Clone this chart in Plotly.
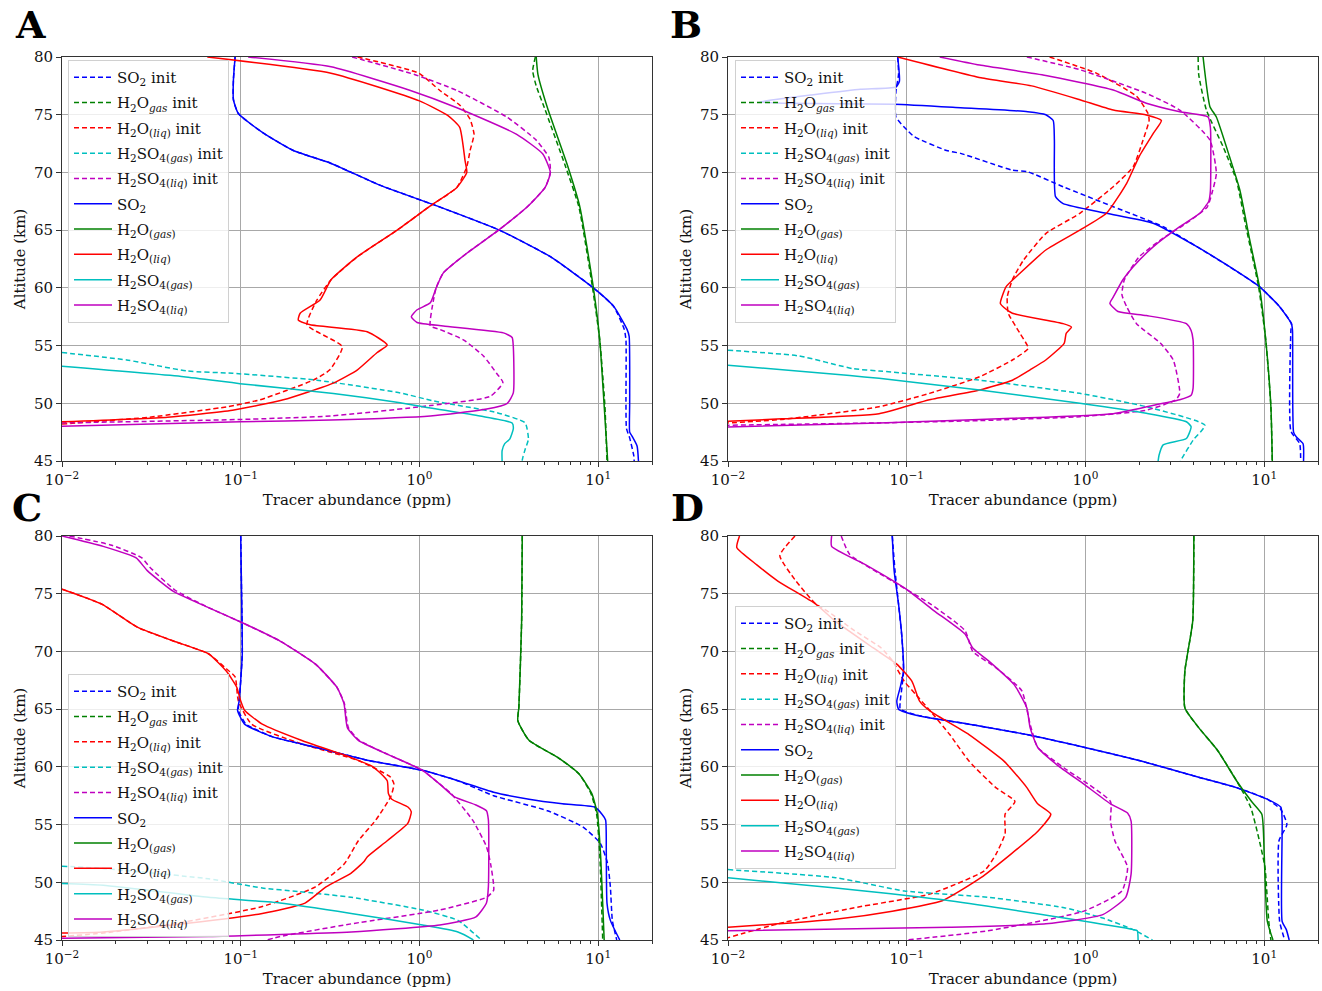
import plotly.graph_objects as go

# ---------------- data: (ppm, altitude km) ----------------
# Panel A
A_SO2_init = [(0.093,80),(0.091,78),(0.091,76.3),(0.097,75.1),(0.134,73.4),(0.197,71.9),(0.318,70.8),(0.60,68.9),(1.25,67.1),(2.8,65),(5.4,62.7),(9.4,60),(12.2,58.4),(14.0,56.4),(14.3,55.5),(14.3,50),(14.4,47.8),(15.0,47.0),(15.8,45.5),(15.9,45)]
A_H2Og_init = [(4.45,80),(4.3,78.8),(4.5,77.5),(5.0,75.6),(6.5,70.7),(7.8,67),(9.3,60),(10.2,55.5),(10.9,49.8),(11.2,45)]
A_H2Ol_init = [(0.45,80),(0.99,78.6),(1.3,77.1),(1.69,75.8),(1.92,74.6),(2.02,73.3),(1.92,71.9),(1.84,70.5),(1.62,68.7),(1.15,67.1),(0.75,65),(0.45,62.7),(0.32,60.7),(0.267,58.95),(0.235,56.8),(0.37,54.9),(0.315,52.9),(0.254,52.0),(0.128,50.3),(0.084,49.7),(0.031,48.8),(0.01,48.2)]
A_H2SO4g_init = [(0.01,54.4),(0.023,53.75),(0.05,52.8),(0.09,52.6),(0.267,52.0),(0.78,50.9),(1.2,50.2),(2.7,49.2),(3.9,48.3),(4.07,46.9),(3.9,46.0),(3.8,45.4),(3.75,45)]
A_H2SO4l_init = [(0.42,80),(0.93,78.5),(1.62,77.1),(3.08,74.8),(4.5,72.8),(5.3,71.3),(5.4,70.0),(5.05,68.7),(4.0,67.0),(2.77,65),(1.84,63),(1.36,61.3),(1.24,60),(1.2,59),(1.15,56.7),(1.3,56.4),(1.76,55.5),(2.28,54.1),(2.7,52.6),(2.93,51.8),(2.49,50.6),(1.15,49.8),(0.32,48.9),(0.1,48.6),(0.01,48.3)]
A_SO2 = [(0.093,80),(0.091,78),(0.091,76.3),(0.097,75.1),(0.134,73.4),(0.197,71.9),(0.318,70.8),(0.60,68.9),(1.25,67.1),(2.8,65),(5.4,62.7),(9.4,60),(12.2,58.4),(14.5,56.4),(14.9,55.8),(15.0,50),(15.0,47.5),(15.4,47.2),(16.5,46.3),(16.8,45)]
A_H2Og = [(4.5,80),(4.6,78.5),(5.2,75.6),(6.7,70.7),(7.9,67),(9.4,60),(10.2,55.5),(10.8,49.8),(11.3,45)]
A_H2Ol = [(0.065,80),(0.32,78.6),(1.0,76.2),(1.45,74.9),(1.68,73.9),(1.8,71),(1.84,70),(1.62,68.7),(1.15,67.1),(0.75,65),(0.45,62.7),(0.32,60.7),(0.278,58.95),(0.215,57.8),(0.21,57.2),(0.245,56.8),(0.51,56.2),(0.66,55.05),(0.58,54.4),(0.45,52.9),(0.33,51.75),(0.173,50.3),(0.09,49.4),(0.039,48.8),(0.01,48.4)]
A_H2SO4g = [(0.01,53.2),(0.048,52.3),(0.099,51.7),(0.33,50.85),(0.78,50.05),(1.15,49.6),(2.18,48.9),(3.3,48.3),(3.35,47.8),(3.2,46.9),(3.0,46.5),(2.9,45.9),(2.9,45)]
A_H2SO4l = [(0.11,80),(0.32,79.15),(0.89,77.1),(1.62,75.6),(3.5,73.3),(4.9,71.6),(5.4,70.0),(5.05,68.7),(4.0,67.0),(2.77,65),(1.84,63),(1.36,61.3),(1.24,60),(1.15,58.7),(0.97,58.1),(0.9,57.5),(0.97,57.0),(1.36,56.7),(2.95,56.1),(3.3,55.7),(3.35,54.9),(3.35,50.9),(3.1,50.0),(2.38,49.5),(1.15,48.9),(0.32,48.55),(0.1,48.4),(0.01,48.0)]

# Panel B
B_SO2_init = [(0.089,80),(0.09,78.5),(0.087,77),(0.087,74.8),(0.1,73.7),(0.11,73.1),(0.167,71.9),(0.2,71.65),(0.39,70.2),(0.475,70.06),(0.75,68.76),(1.43,67.03),(2.72,65.3),(4.2,63.57),(6.4,61.83),(9.4,60.1),(12.2,58.37),(14.2,56.9),(14.1,56.3),(14.1,47.6),(15.8,46.5),(16.0,45)]
B_H2Og_init = [(4.27,80),(4.3,78.5),(4.75,75.4),(5.9,72.2),(7.0,69.3),(7.9,65.3),(9.3,60.1),(10.2,55.5),(10.9,49.7),(11.1,45)]
B_H2Ol_init = [(0.63,80),(1.15,78.6),(1.93,76.6),(2.24,75.1),(2.27,74.5),(2.1,72.8),(1.85,70.5),(1.43,68.76),(0.93,66.46),(0.6,64.7),(0.45,62.4),(0.39,60.7),(0.365,59.2),(0.37,57.8),(0.43,56.06),(0.478,54.76),(0.39,53.75),(0.256,52.3),(0.134,50.86),(0.07,49.7),(0.02,48.6),(0.01,48.3)]
B_H2SO4g_init = [(0.01,54.6),(0.025,54.1),(0.05,53.0),(0.07,52.8),(0.256,52.0),(0.93,50.86),(2.19,49.7),(4.66,48.1),(4.0,46.8),(3.44,45.15),(3.4,45)]
B_H2SO4l_init = [(0.47,80),(0.93,78.9),(2.19,76.85),(3.37,75.4),(4.97,72.8),(5.4,69.9),(5.1,68.2),(4.8,67.0),(3.67,65.6),(2.72,64.3),(2.0,62.7),(1.65,60.7),(1.6,59.4),(1.7,58.37),(1.93,56.9),(2.63,55.2),(3.1,53.75),(3.37,50.86),(3.2,50.3),(2.19,49.4),(0.93,48.84),(0.256,48.5),(0.07,48.3),(0.01,48.1)]
B_SO2 = [(0.089,80),(0.091,77.9),(0.087,77.4),(0.055,77.2),(0.029,76.7),(0.018,76.3),(0.015,76.1),(0.02,76.0),(0.085,75.9),(0.2,75.6),(0.475,75.26),(0.6,75.0),(0.66,74.5),(0.67,72.8),(0.68,67.9),(0.75,67.3),(1.31,66.46),(2.39,65.6),(4.2,63.57),(6.4,61.83),(9.4,60.1),(12.2,58.37),(14.2,56.9),(14.4,56.3),(14.6,47.5),(15.1,47.1),(16.5,46.5),(16.6,45)]
B_H2Og = [(4.55,80),(4.97,75.7),(5.4,74.8),(6.4,71.36),(7.3,68.5),(8.3,64.15),(9.4,60.1),(10.2,55.5),(10.9,49.7),(11.1,45)]
B_H2Ol = [(0.089,80),(0.26,78.2),(0.5,77.5),(0.93,76.3),(1.43,75.4),(2.19,74.98),(2.66,74.5),(2.4,73.4),(2.0,71.4),(1.7,69.06),(1.31,66.46),(0.93,65.0),(0.6,63.28),(0.43,61.26),(0.36,60.1),(0.334,58.66),(0.35,58.3),(0.39,57.8),(0.75,56.9),(0.835,56.6),(0.78,56.06),(0.76,55.2),(0.6,53.75),(0.49,52.9),(0.39,52.0),(0.256,51.15),(0.134,50.3),(0.07,49.1),(0.02,48.65),(0.01,48.45)]
B_H2SO4g = [(0.01,53.3),(0.048,52.4),(0.07,52.16),(0.256,51.15),(0.93,50.0),(2.19,49.13),(3.67,48.4),(3.9,47.97),(3.67,46.95),(2.72,46.4),(2.58,45.5),(2.55,45)]
B_H2SO4l = [(0.153,80),(0.256,79.3),(0.6,78.4),(1.43,77.14),(2.19,76.0),(3.37,75.26),(4.85,74.8),(5.0,73.9),(5.0,68.4),(4.9,67.5),(4.36,66.46),(3.37,65.3),(2.4,63.57),(1.85,61.83),(1.62,60.7),(1.43,59.2),(1.37,58.66),(1.52,57.95),(2.19,57.6),(3.67,56.9),(3.9,56.3),(4.0,55.5),(4.0,51.3),(3.9,50.7),(3.37,50.3),(2.72,50.0),(1.43,49.1),(0.39,48.7),(0.07,48.3),(0.01,47.95)]

# Panel C
C_SO2_init = [(0.1,80),(0.101,75.5),(0.102,69.8),(0.1,67.5),(0.098,65.7),(0.097,64.9),(0.107,63.7),(0.151,62.6),(0.262,61.7),(0.52,60.55),(1.04,59.7),(1.64,58.8),(2.6,57.5),(5.2,56.2),(8.2,54.8),(10.3,53.35),(11.3,51.6),(11.7,49.6),(12.0,46.7),(12.7,45)]
C_H2Og_init = [(3.76,80),(3.73,72.65),(3.6,65.2),(3.55,64.0),(4.1,62.3),(5.96,60.8),(7.8,59.4),(9.1,57.7),(9.8,55.9),(10.2,52.5),(10.6,45)]
C_H2Ol_init = [(0.01,75.4),(0.0167,74.1),(0.0264,72.1),(0.042,70.9),(0.066,69.8),(0.083,68.5),(0.093,67.8),(0.097,65.7),(0.115,63.7),(0.218,62.0),(0.455,60.55),(0.69,59.1),(0.72,58.5),(0.69,57.4),(0.57,55.4),(0.455,53.6),(0.38,51.6),(0.262,49.6),(0.132,47.9),(0.042,46.4),(0.017,45.6),(0.01,45.3)]
C_H2SO4g_init = [(0.01,51.4),(0.017,51.2),(0.066,50.3),(0.132,49.5),(0.209,49.2),(0.415,48.7),(1.04,47.6),(1.64,46.7),(2.22,45)]
C_H2SO4l_init = [(0.011,80),(0.019,79.2),(0.028,78.1),(0.031,77.3),(0.043,75.3),(0.066,73.8),(0.105,72.4),(0.166,70.9),(0.262,68.9),(0.345,66.9),(0.38,65.5),(0.4,63.4),(0.46,62.3),(0.66,61.1),(1.04,59.7),(1.3,58.5),(1.5,57.7),(1.98,55.4),(2.37,53.1),(2.5,51.6),(2.6,49.3),(2.37,48.7),(1.3,47.6),(0.415,46.4),(0.166,45.3),(0.14,45)]
C_SO2 = [(0.1,80),(0.101,75.5),(0.102,69.8),(0.1,67.5),(0.098,65.7),(0.096,64.9),(0.105,63.7),(0.151,62.6),(0.262,61.7),(0.52,60.55),(1.04,59.7),(1.64,58.8),(2.6,57.8),(4.1,57.2),(6.3,56.8),(9.6,56.5),(10.5,55.9),(11.0,55.4),(11.1,52.5),(11.2,48.2),(11.7,46.7),(13.2,45)]
C_H2Og = [(3.76,80),(3.73,72.65),(3.6,65.2),(3.55,64.0),(4.1,62.3),(5.96,60.8),(7.8,59.4),(9.2,57.7),(9.9,55.9),(10.3,52.5),(10.8,45)]
C_H2Ol = [(0.01,75.4),(0.0167,74.1),(0.0264,72.1),(0.042,70.9),(0.066,69.8),(0.083,68.3),(0.095,66.9),(0.1,65.7),(0.105,64.9),(0.132,63.7),(0.218,62.3),(0.415,60.8),(0.55,60.0),(0.66,58.8),(0.67,57.7),(0.7,57.2),(0.865,56.5),(0.9,56.1),(0.86,55.1),(0.66,53.6),(0.51,52.2),(0.49,51.8),(0.415,50.8),(0.30,49.6),(0.229,48.2),(0.132,47.3),(0.042,46.3),(0.017,45.7),(0.01,45.6)]
C_H2SO4g = [(0.01,49.9),(0.017,49.75),(0.066,48.7),(0.166,48.2),(0.415,47.3),(1.04,46.3),(1.64,45.7),(1.98,45.05),(2.0,45)]
C_H2SO4l = [(0.01,80),(0.017,79.1),(0.026,78.1),(0.030,77.0),(0.042,75.2),(0.066,73.8),(0.105,72.4),(0.166,70.9),(0.262,68.9),(0.345,66.9),(0.378,65.5),(0.395,63.4),(0.455,62.3),(0.66,61.1),(1.04,59.7),(1.3,58.5),(1.57,57.4),(2.07,56.7),(2.37,56.2),(2.43,55.4),(2.43,49.6),(2.37,48.2),(2.07,47.0),(1.3,46.3),(0.415,45.7),(0.066,45.3),(0.01,45.15)]

# Panel D
D_SO2_init = [(0.083,80),(0.086,77.0),(0.09,74.1),(0.094,71.2),(0.096,68.3),(0.094,66.9),(0.092,65.7),(0.092,65.0),(0.12,64.4),(0.223,63.7),(0.47,62.8),(0.98,61.7),(2.05,60.5),(4.3,59.1),(7.0,58.2),(10.4,57.2),(12.4,56.3),(13.4,55.0),(12.1,53.6),(12.2,46.6),(12.9,45.2),(13.0,45)]
D_H2Og_init = [(4.04,80),(3.98,72.6),(3.6,68.3),(3.6,65.1),(4.3,63.4),(5.5,61.4),(7.0,58.8),(8.4,56.5),(9.4,53.6),(10.1,51.3),(10.6,46.65),(10.9,45)]
D_H2Ol_init = [(0.0237,80),(0.0195,78.3),(0.024,76.1),(0.031,74.1),(0.036,73.5),(0.051,71.8),(0.072,70.3),(0.083,69.2),(0.097,67.4),(0.112,66.3),(0.136,64.8),(0.174,62.8),(0.223,60.5),(0.315,58.2),(0.403,57.0),(0.355,55.9),(0.355,54.2),(0.315,52.4),(0.272,51.0),(0.136,49.0),(0.051,47.8),(0.019,46.4),(0.01,45.2)]
D_H2SO4g_init = [(0.01,51.1),(0.04,50.4),(0.097,49.25),(0.285,48.7),(0.76,47.8),(1.25,46.9),(1.85,45.9),(2.37,45)]
D_H2SO4l_init = [(0.043,80),(0.048,78.4),(0.083,76.1),(0.136,74.1),(0.212,71.8),(0.234,70.0),(0.315,68.6),(0.44,66.6),(0.49,63.7),(0.54,61.7),(0.76,59.9),(1.38,57.0),(1.38,55.3),(1.46,53.6),(1.72,51.3),(1.6,49.25),(0.98,47.5),(0.285,45.8),(0.1,45)]
D_SO2 = [(0.083,80),(0.085,77.0),(0.09,74.1),(0.094,71.2),(0.096,68.3),(0.092,66.9),(0.088,65.7),(0.09,65.0),(0.118,64.4),(0.223,63.7),(0.47,62.8),(0.98,61.7),(2.05,60.5),(4.3,59.1),(7.0,58.2),(10.4,57.2),(12.4,56.5),(12.6,55.3),(12.6,46.6),(13.3,45.9),(13.8,45)]
D_H2Og = [(4.04,80),(3.98,72.6),(3.6,68.3),(3.6,65.1),(4.3,63.4),(5.5,61.4),(7.0,58.8),(8.5,57.0),(9.7,55.9),(10.0,52.4),(10.4,46.65),(11.2,45)]
D_H2Ol = [(0.0116,80),(0.0112,79.0),(0.0145,77.5),(0.019,76.1),(0.031,74.1),(0.04,72.6),(0.065,70.3),(0.088,68.9),(0.107,67.4),(0.118,65.7),(0.136,64.8),(0.223,62.8),(0.35,60.5),(0.38,59.9),(0.47,58.2),(0.54,56.8),(0.64,55.9),(0.54,54.4),(0.38,52.4),(0.26,50.4),(0.158,48.4),(0.083,47.5),(0.04,46.8),(0.019,46.4),(0.01,46.1)]
D_H2SO4g = [(0.01,50.4),(0.04,49.5),(0.174,48.4),(0.76,46.9),(1.85,45.9),(1.95,45.8),(1.97,45)]
D_H2SO4l = [(0.038,80),(0.038,79.1),(0.059,77.5),(0.097,75.5),(0.143,73.5),(0.212,71.5),(0.234,70.3),(0.286,69.2),(0.40,67.1),(0.47,65.1),(0.49,63.4),(0.54,61.7),(0.69,60.2),(0.98,58.5),(1.38,56.8),(1.72,56.0),(1.8,55.3),(1.8,50.7),(1.68,48.7),(1.25,47.2),(0.6,46.4),(0.174,46.1),(0.01,45.8)]

SERIES_NAMES = [
    "SO<sub>2</sub> init",
    "H<sub>2</sub>O<sub><i>gas</i></sub> init",
    "H<sub>2</sub>O<sub>(<i>liq</i>)</sub> init",
    "H<sub>2</sub>SO<sub>4(<i>gas</i>)</sub> init",
    "H<sub>2</sub>SO<sub>4(<i>liq</i>)</sub> init",
    "SO<sub>2</sub>",
    "H<sub>2</sub>O<sub>(<i>gas</i>)</sub>",
    "H<sub>2</sub>O<sub>(<i>liq</i>)</sub>",
    "H<sub>2</sub>SO<sub>4(<i>gas</i>)</sub>",
    "H<sub>2</sub>SO<sub>4(<i>liq</i>)</sub>",
]
SERIES_COLORS = ["#0000ff", "#008000", "#ff0000", "#00bfbf", "#bf00bf"] * 2
SERIES_DASH = ["5px,3px"] * 5 + ["solid"] * 5

PANELS = {
    "A": [A_SO2_init, A_H2Og_init, A_H2Ol_init, A_H2SO4g_init, A_H2SO4l_init, A_SO2, A_H2Og, A_H2Ol, A_H2SO4g, A_H2SO4l],
    "B": [B_SO2_init, B_H2Og_init, B_H2Ol_init, B_H2SO4g_init, B_H2SO4l_init, B_SO2, B_H2Og, B_H2Ol, B_H2SO4g, B_H2SO4l],
    "C": [C_SO2_init, C_H2Og_init, C_H2Ol_init, C_H2SO4g_init, C_H2SO4l_init, C_SO2, C_H2Og, C_H2Ol, C_H2SO4g, C_H2SO4l],
    "D": [D_SO2_init, D_H2Og_init, D_H2Ol_init, D_H2SO4g_init, D_H2SO4l_init, D_SO2, D_H2Og, D_H2Ol, D_H2SO4g, D_H2SO4l],
}

X_TICKS = [0.01, 0.1, 1, 10]
X_TICKTEXT = ["10<sup>\u22122</sup>", "10<sup>\u22121</sup>", "10<sup>0</sup>", "10<sup>1</sup>"]
Y_TICKS = [45, 50, 55, 60, 65, 70, 75, 80]
X_MINOR = [k * 10.0 ** e for e in range(-2, 2) for k in range(2, 10) if k * 10.0 ** e <= 20]

# ---------------- layout (pixels) ----------------
W, H = 1322, 991
RECTS = {"A": (62, 57, 652, 461), "B": (728, 57, 1318, 461),
         "C": (62, 536, 652, 940), "D": (728, 536, 1318, 940)}
LEGEND_POS = {"A": (68, 60), "B": (735, 60), "C": (68, 674), "D": (735, 606)}
LETTER_POS = {"A": (30, 25), "B": (686, 25), "C": (27, 507), "D": (687, 507)}

FONT = "DejaVu Serif"

fig = go.Figure()
layout_updates = {}
annotations = []
for i, key in enumerate(["A", "B", "C", "D"]):
    n = "" if i == 0 else str(i + 1)
    xa, ya = "x" + n, "y" + n
    leg = "legend" + n
    for j, data in enumerate(PANELS[key]):
        fig.add_trace(go.Scatter(
            x=[p[0] for p in data], y=[p[1] for p in data],
            mode="lines", name=SERIES_NAMES[j],
            line=dict(color=SERIES_COLORS[j], width=1.5, dash=SERIES_DASH[j],
                      shape="spline", smoothing=0.5),
            xaxis=xa, yaxis=ya, legend=leg, legendgroup=key + str(j),
            hoverinfo="skip"))
    l, t, r, b = RECTS[key]
    layout_updates["xaxis" + n] = dict(
        type="log", range=[-2, 1.30103], domain=[l / W, r / W], anchor=ya,
        automargin=False,
        tickvals=X_TICKS, ticktext=X_TICKTEXT, ticks="outside", ticklen=5,
        tickcolor="#333", showgrid=True, gridcolor="#a8a8a8", gridwidth=1,
        showline=True, linecolor="#333", linewidth=1, mirror=True, zeroline=False,
        minor=dict(tickvals=X_MINOR, ticks="outside", ticklen=3, tickcolor="#333", showgrid=False),
        tickfont=dict(family=FONT, size=15, color="#111"),
        title=dict(text="Tracer abundance (ppm)", font=dict(family=FONT, size=15, color="#111"), standoff=6),
    )
    layout_updates["yaxis" + n] = dict(
        range=[45, 80], domain=[1 - b / H, 1 - t / H], anchor=xa,
        automargin=False,
        tickvals=Y_TICKS, ticks="outside", ticklen=5, tickcolor="#333",
        showgrid=True, gridcolor="#a8a8a8", gridwidth=1,
        showline=True, linecolor="#333", linewidth=1, mirror=True, zeroline=False,
        tickfont=dict(family=FONT, size=15, color="#111"),
        title=dict(text="Altitude (km)", font=dict(family=FONT, size=15, color="#111"), standoff=4),
    )
    lx, ly = LEGEND_POS[key]
    layout_updates[leg] = dict(
        x=lx / W, y=1 - ly / H, xanchor="left", yanchor="top",
        bgcolor="rgba(255,255,255,0.8)", bordercolor="#d0d0d0", borderwidth=1,
        font=dict(family=FONT, size=15, color="#111"), itemwidth=38,
        tracegroupgap=2.8,
    )
    cx, cy = LETTER_POS[key]
    annotations.append(dict(text="<b>%s</b>" % key, x=cx / W, y=1 - cy / H, xref="paper", yref="paper",
                            xanchor="center", yanchor="middle", showarrow=False,
                            font=dict(family=FONT, size=38, color="black")))

fig.update_layout(**layout_updates)
fig.update_layout(width=W, height=H, margin=dict(l=0, r=0, t=0, b=0, autoexpand=False),
                  plot_bgcolor="white", paper_bgcolor="white",
                  annotations=annotations, showlegend=True)

fig.write_html("out.html", config={"displayModeBar": False},
               post_script="document.body.style.margin='0';")
